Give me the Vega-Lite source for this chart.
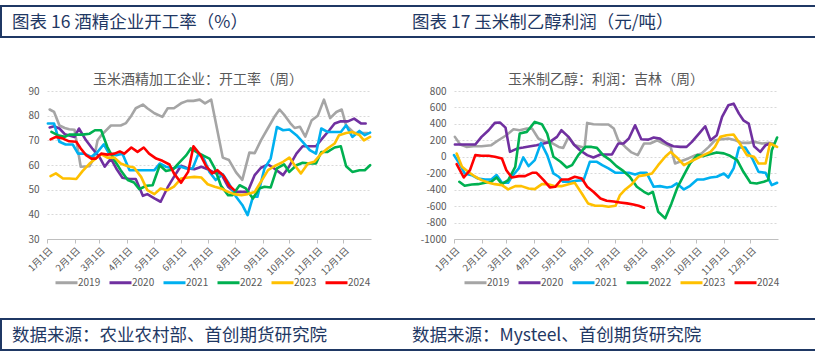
{
  "$schema": "https://vega.github.io/schema/vega-lite/v6.json",
  "padding": {"left": 0, "top": 5, "right": 0, "bottom": 0},
  "background": "white",
  "columns": 1,
  "align": "none",
  "spacing": 35,
  "config": {
    "font": "Noto Sans CJK SC",
    "view": {"stroke": null},
    "axis": {"labelColor": "#595959", "labelFontSize": 10, "domainColor": "#bfbfbf", "tickColor": "#bfbfbf", "gridColor": "#d9d9d9", "gridDash": [2, 2], "title": null},
    "title": {"fontSize": 14, "color": "#595959", "fontWeight": "normal", "offset": -1, "dx": -10},
    "legend": {"orient": "none", "direction": "horizontal", "symbolType": "stroke", "symbolSize": 484, "symbolStrokeWidth": 3, "labelFontSize": 10, "labelColor": "#595959", "columnPadding": 2, "labelOffset": -1, "title": null, "legendY": 179}
  },
  "datasets": {
    "hdr": [
      {"col": "a", "t": "图表 16 酒精企业开工率（%）"},
      {"col": "b", "t": "图表 17 玉米制乙醇利润（元/吨）"}
    ],
    "ftr": [
      {"col": "a", "t": "数据来源：农业农村部、首创期货研究院"},
      {"col": "b", "t": "数据来源：Mysteel、首创期货研究院"}
    ],
    "rate": [
      {"s":"2019","d":3,"v":82.5},{"s":"2019","d":8,"v":81.5},{"s":"2019","d":14,"v":76},{"s":"2019","d":20,"v":75},{"s":"2019","d":25,"v":74.5},{"s":"2019","d":31,"v":74.3},{"s":"2019","d":38,"v":59.3},{"s":"2019","d":48,"v":59.5},{"s":"2019","d":53,"v":63},{"s":"2019","d":57,"v":70},{"s":"2019","d":61,"v":72},{"s":"2019","d":72,"v":76},{"s":"2019","d":83,"v":76},{"s":"2019","d":89,"v":77},{"s":"2019","d":95,"v":80},{"s":"2019","d":100,"v":83},{"s":"2019","d":108,"v":84.5},{"s":"2019","d":113,"v":83},{"s":"2019","d":121,"v":81},{"s":"2019","d":130,"v":79.5},{"s":"2019","d":136,"v":83},{"s":"2019","d":143,"v":83},{"s":"2019","d":151,"v":85},{"s":"2019","d":158,"v":86},{"s":"2019","d":165,"v":86},{"s":"2019","d":172,"v":86.5},{"s":"2019","d":178,"v":85},{"s":"2019","d":185,"v":86.5},{"s":"2019","d":198,"v":63},{"s":"2019","d":205,"v":62},{"s":"2019","d":213,"v":57},{"s":"2019","d":220,"v":54},{"s":"2019","d":228,"v":65},{"s":"2019","d":234,"v":64.8},{"s":"2019","d":241,"v":70},{"s":"2019","d":249,"v":75},{"s":"2019","d":257,"v":80},{"s":"2019","d":262,"v":82.5},{"s":"2019","d":268,"v":80},{"s":"2019","d":274,"v":77},{"s":"2019","d":279,"v":75},{"s":"2019","d":285,"v":75.5},{"s":"2019","d":291,"v":71.5},{"s":"2019","d":298,"v":78},{"s":"2019","d":305,"v":80},{"s":"2019","d":312,"v":86.5},{"s":"2019","d":319,"v":79},{"s":"2019","d":326,"v":81.5},{"s":"2019","d":332,"v":82.5},{"s":"2019","d":337,"v":76},{"s":"2019","d":346,"v":73},{"s":"2019","d":356,"v":73},{"s":"2019","d":361,"v":73},
      {"s":"2020","d":3,"v":75.2},{"s":"2020","d":8,"v":75.7},{"s":"2020","d":14,"v":74.8},{"s":"2020","d":20,"v":72.5},{"s":"2020","d":25,"v":72},{"s":"2020","d":31,"v":71.4},{"s":"2020","d":36,"v":74.8},{"s":"2020","d":44,"v":70},{"s":"2020","d":51,"v":66.7},{"s":"2020","d":59,"v":63.3},{"s":"2020","d":65,"v":59.3},{"s":"2020","d":72,"v":62.6},{"s":"2020","d":78,"v":58.6},{"s":"2020","d":85,"v":54.8},{"s":"2020","d":93,"v":54.3},{"s":"2020","d":100,"v":54.3},{"s":"2020","d":108,"v":47.5},{"s":"2020","d":113,"v":48.2},{"s":"2020","d":121,"v":46.5},{"s":"2020","d":128,"v":45.1},{"s":"2020","d":136,"v":51},{"s":"2020","d":143,"v":55.2},{"s":"2020","d":151,"v":59.7},{"s":"2020","d":159,"v":58.6},{"s":"2020","d":166,"v":58.3},{"s":"2020","d":174,"v":59.3},{"s":"2020","d":181,"v":58.3},{"s":"2020","d":189,"v":56.8},{"s":"2020","d":196,"v":56.6},{"s":"2020","d":204,"v":51.2},{"s":"2020","d":211,"v":49.1},{"s":"2020","d":219,"v":49.1},{"s":"2020","d":226,"v":49.1},{"s":"2020","d":234,"v":55.9},{"s":"2020","d":241,"v":58.9},{"s":"2020","d":249,"v":60.2},{"s":"2020","d":256,"v":58.6},{"s":"2020","d":266,"v":55.9},{"s":"2020","d":273,"v":59.5},{"s":"2020","d":281,"v":64.6},{"s":"2020","d":288,"v":67.6},{"s":"2020","d":296,"v":67.6},{"s":"2020","d":303,"v":67.6},{"s":"2020","d":309,"v":70.3},{"s":"2020","d":318,"v":74.1},{"s":"2020","d":324,"v":76.8},{"s":"2020","d":331,"v":77.7},{"s":"2020","d":339,"v":77.7},{"s":"2020","d":346,"v":78.8},{"s":"2020","d":354,"v":76.8},{"s":"2020","d":359,"v":76.8},
      {"s":"2021","d":1,"v":76.8},{"s":"2021","d":8,"v":76.8},{"s":"2021","d":14,"v":69.4},{"s":"2021","d":21,"v":68.3},{"s":"2021","d":29,"v":68.3},{"s":"2021","d":35,"v":64.6},{"s":"2021","d":42,"v":64.6},{"s":"2021","d":50,"v":63.3},{"s":"2021","d":57,"v":65.3},{"s":"2021","d":64,"v":68.4},{"s":"2021","d":70,"v":64.6},{"s":"2021","d":78,"v":64},{"s":"2021","d":85,"v":64.6},{"s":"2021","d":93,"v":57.9},{"s":"2021","d":100,"v":57.9},{"s":"2021","d":108,"v":57.9},{"s":"2021","d":115,"v":57.9},{"s":"2021","d":121,"v":57.9},{"s":"2021","d":127,"v":60.6},{"s":"2021","d":134,"v":59.3},{"s":"2021","d":142,"v":58.6},{"s":"2021","d":149,"v":59.5},{"s":"2021","d":157,"v":58.6},{"s":"2021","d":164,"v":58.6},{"s":"2021","d":170,"v":64},{"s":"2021","d":175,"v":64},{"s":"2021","d":183,"v":57.2},{"s":"2021","d":190,"v":53.9},{"s":"2021","d":198,"v":56.3},{"s":"2021","d":205,"v":52.5},{"s":"2021","d":213,"v":47.1},{"s":"2021","d":220,"v":43.8},{"s":"2021","d":226,"v":39.7},{"s":"2021","d":232,"v":47.1},{"s":"2021","d":237,"v":47.1},{"s":"2021","d":245,"v":58.6},{"s":"2021","d":252,"v":62.6},{"s":"2021","d":259,"v":75.4},{"s":"2021","d":266,"v":74.1},{"s":"2021","d":273,"v":74.4},{"s":"2021","d":281,"v":72.1},{"s":"2021","d":288,"v":69.4},{"s":"2021","d":296,"v":66},{"s":"2021","d":303,"v":64.6},{"s":"2021","d":309,"v":74.8},{"s":"2021","d":316,"v":73.4},{"s":"2021","d":324,"v":73.4},{"s":"2021","d":331,"v":73.4},{"s":"2021","d":337,"v":76.1},{"s":"2021","d":344,"v":71.4},{"s":"2021","d":352,"v":73.8},{"s":"2021","d":358,"v":72.1},{"s":"2021","d":364,"v":73.1},
      {"s":"2022","d":5,"v":73.4},{"s":"2022","d":12,"v":72.1},{"s":"2022","d":20,"v":71.4},{"s":"2022","d":25,"v":72.3},{"s":"2022","d":33,"v":72.3},{"s":"2022","d":40,"v":72.3},{"s":"2022","d":48,"v":72.7},{"s":"2022","d":54,"v":74.1},{"s":"2022","d":61,"v":74.1},{"s":"2022","d":68,"v":67.3},{"s":"2022","d":76,"v":61.9},{"s":"2022","d":83,"v":57.9},{"s":"2022","d":91,"v":53.9},{"s":"2022","d":98,"v":52.9},{"s":"2022","d":104,"v":50.2},{"s":"2022","d":112,"v":51.6},{"s":"2022","d":119,"v":51.8},{"s":"2022","d":127,"v":59.9},{"s":"2022","d":134,"v":57.6},{"s":"2022","d":142,"v":58.2},{"s":"2022","d":149,"v":61},{"s":"2022","d":157,"v":64},{"s":"2022","d":162,"v":66.7},{"s":"2022","d":170,"v":64.9},{"s":"2022","d":175,"v":64},{"s":"2022","d":183,"v":62.6},{"s":"2022","d":189,"v":58.6},{"s":"2022","d":196,"v":51.6},{"s":"2022","d":204,"v":47.8},{"s":"2022","d":209,"v":47.8},{"s":"2022","d":217,"v":51.8},{"s":"2022","d":224,"v":50.5},{"s":"2022","d":232,"v":46.4},{"s":"2022","d":239,"v":50.5},{"s":"2022","d":245,"v":51.2},{"s":"2022","d":252,"v":50.9},{"s":"2022","d":259,"v":58.6},{"s":"2022","d":267,"v":60.3},{"s":"2022","d":273,"v":57.2},{"s":"2022","d":281,"v":59.9},{"s":"2022","d":288,"v":60.9},{"s":"2022","d":296,"v":60.6},{"s":"2022","d":303,"v":60.6},{"s":"2022","d":309,"v":65.3},{"s":"2022","d":316,"v":65.3},{"s":"2022","d":324,"v":67.1},{"s":"2022","d":331,"v":67.6},{"s":"2022","d":337,"v":59.5},{"s":"2022","d":344,"v":57.2},{"s":"2022","d":352,"v":57.9},{"s":"2022","d":358,"v":57.9},{"s":"2022","d":364,"v":59.9},
      {"s":"2023","d":4,"v":55.5},{"s":"2023","d":10,"v":56.6},{"s":"2023","d":18,"v":54.5},{"s":"2023","d":25,"v":54.5},{"s":"2023","d":33,"v":54.3},{"s":"2023","d":40,"v":57.5},{"s":"2023","d":48,"v":60.6},{"s":"2023","d":55,"v":62.6},{"s":"2023","d":61,"v":64.4},{"s":"2023","d":68,"v":63},{"s":"2023","d":76,"v":63},{"s":"2023","d":83,"v":60.6},{"s":"2023","d":91,"v":59.5},{"s":"2023","d":98,"v":59},{"s":"2023","d":106,"v":55.2},{"s":"2023","d":113,"v":49.8},{"s":"2023","d":121,"v":48.2},{"s":"2023","d":128,"v":50.5},{"s":"2023","d":136,"v":49.8},{"s":"2023","d":143,"v":51.2},{"s":"2023","d":151,"v":54.5},{"s":"2023","d":159,"v":54.9},{"s":"2023","d":166,"v":55.2},{"s":"2023","d":174,"v":54.9},{"s":"2023","d":181,"v":52.2},{"s":"2023","d":189,"v":51.2},{"s":"2023","d":196,"v":50.5},{"s":"2023","d":204,"v":49.1},{"s":"2023","d":211,"v":48.2},{"s":"2023","d":219,"v":47.8},{"s":"2023","d":226,"v":48.2},{"s":"2023","d":234,"v":49.1},{"s":"2023","d":241,"v":53.2},{"s":"2023","d":249,"v":57.9},{"s":"2023","d":256,"v":59.5},{"s":"2023","d":266,"v":61.3},{"s":"2023","d":273,"v":63},{"s":"2023","d":279,"v":59.9},{"s":"2023","d":286,"v":56.6},{"s":"2023","d":294,"v":60.6},{"s":"2023","d":301,"v":61.3},{"s":"2023","d":309,"v":64.6},{"s":"2023","d":316,"v":66.7},{"s":"2023","d":324,"v":68.7},{"s":"2023","d":329,"v":72.1},{"s":"2023","d":337,"v":73},{"s":"2023","d":344,"v":73.4},{"s":"2023","d":352,"v":72.1},{"s":"2023","d":357,"v":70},{"s":"2023","d":364,"v":71.4},
      {"s":"2024","d":4,"v":70.4},{"s":"2024","d":10,"v":71.4},{"s":"2024","d":18,"v":70.7},{"s":"2024","d":25,"v":69.6},{"s":"2024","d":33,"v":69.4},{"s":"2024","d":38,"v":66.7},{"s":"2024","d":44,"v":64},{"s":"2024","d":50,"v":62.6},{"s":"2024","d":55,"v":62.6},{"s":"2024","d":61,"v":64.6},{"s":"2024","d":68,"v":64.2},{"s":"2024","d":76,"v":64.6},{"s":"2024","d":82,"v":65.5},{"s":"2024","d":87,"v":64.6},{"s":"2024","d":95,"v":67.1},{"s":"2024","d":102,"v":65.3},{"s":"2024","d":109,"v":67.1},{"s":"2024","d":115,"v":64.6},{"s":"2024","d":123,"v":62.6},{"s":"2024","d":130,"v":61.7},{"s":"2024","d":138,"v":60.2},{"s":"2024","d":143,"v":56.6},{"s":"2024","d":151,"v":52.8},{"s":"2024","d":159,"v":57.2},{"s":"2024","d":165,"v":67.6},{"s":"2024","d":173,"v":64},{"s":"2024","d":179,"v":59.7},{"s":"2024","d":186,"v":56.6},{"s":"2024","d":192,"v":57.9},{"s":"2024","d":199,"v":55.6},{"s":"2024","d":205,"v":51.8},{"s":"2024","d":211,"v":49.8}
    ],
    "profit": [
      {"s":"2019","d":1,"v":242},{"s":"2019","d":7,"v":149},{"s":"2019","d":14,"v":120},{"s":"2019","d":22,"v":128},{"s":"2019","d":31,"v":128},{"s":"2019","d":42,"v":141},{"s":"2019","d":50,"v":201},{"s":"2019","d":59,"v":262},{"s":"2019","d":67,"v":335},{"s":"2019","d":74,"v":323},{"s":"2019","d":82,"v":343},{"s":"2019","d":88,"v":343},{"s":"2019","d":95,"v":222},{"s":"2019","d":103,"v":181},{"s":"2019","d":110,"v":169},{"s":"2019","d":118,"v":120},{"s":"2019","d":123,"v":108},{"s":"2019","d":129,"v":242},{"s":"2019","d":136,"v":141},{"s":"2019","d":144,"v":120},{"s":"2019","d":147,"v":100},{"s":"2019","d":150,"v":412},{"s":"2019","d":157,"v":396},{"s":"2019","d":167,"v":392},{"s":"2019","d":174,"v":392},{"s":"2019","d":180,"v":343},{"s":"2019","d":185,"v":201},{"s":"2019","d":193,"v":120},{"s":"2019","d":200,"v":53},{"s":"2019","d":207,"v":20},{"s":"2019","d":214,"v":161},{"s":"2019","d":221,"v":161},{"s":"2019","d":229,"v":201},{"s":"2019","d":236,"v":161},{"s":"2019","d":244,"v":120},{"s":"2019","d":249,"v":-81},{"s":"2019","d":257,"v":-49},{"s":"2019","d":264,"v":-20},{"s":"2019","d":272,"v":20},{"s":"2019","d":279,"v":41},{"s":"2019","d":287,"v":120},{"s":"2019","d":294,"v":201},{"s":"2019","d":302,"v":213},{"s":"2019","d":309,"v":221},{"s":"2019","d":317,"v":201},{"s":"2019","d":324,"v":169},{"s":"2019","d":332,"v":169},{"s":"2019","d":339,"v":181},{"s":"2019","d":347,"v":161},{"s":"2019","d":355,"v":169},{"s":"2019","d":360,"v":161},
      {"s":"2020","d":1,"v":149},{"s":"2020","d":9,"v":149},{"s":"2020","d":16,"v":149},{"s":"2020","d":24,"v":149},{"s":"2020","d":31,"v":242},{"s":"2020","d":39,"v":323},{"s":"2020","d":46,"v":412},{"s":"2020","d":52,"v":416},{"s":"2020","d":58,"v":355},{"s":"2020","d":63,"v":60},{"s":"2020","d":71,"v":100},{"s":"2020","d":78,"v":112},{"s":"2020","d":86,"v":128},{"s":"2020","d":93,"v":141},{"s":"2020","d":101,"v":161},{"s":"2020","d":108,"v":181},{"s":"2020","d":116,"v":242},{"s":"2020","d":121,"v":323},{"s":"2020","d":129,"v":242},{"s":"2020","d":135,"v":149},{"s":"2020","d":142,"v":80},{"s":"2020","d":150,"v":20},{"s":"2020","d":157,"v":-8},{"s":"2020","d":165,"v":28},{"s":"2020","d":172,"v":28},{"s":"2020","d":178,"v":28},{"s":"2020","d":185,"v":161},{"s":"2020","d":191,"v":161},{"s":"2020","d":197,"v":222},{"s":"2020","d":204,"v":383},{"s":"2020","d":211,"v":213},{"s":"2020","d":219,"v":209},{"s":"2020","d":225,"v":234},{"s":"2020","d":232,"v":221},{"s":"2020","d":240,"v":161},{"s":"2020","d":247,"v":128},{"s":"2020","d":255,"v":120},{"s":"2020","d":262,"v":120},{"s":"2020","d":268,"v":181},{"s":"2020","d":276,"v":282},{"s":"2020","d":283,"v":371},{"s":"2020","d":289,"v":201},{"s":"2020","d":296,"v":262},{"s":"2020","d":302,"v":484},{"s":"2020","d":309,"v":626},{"s":"2020","d":315,"v":646},{"s":"2020","d":321,"v":525},{"s":"2020","d":326,"v":444},{"s":"2020","d":332,"v":404},{"s":"2020","d":338,"v":128},{"s":"2020","d":345,"v":60},{"s":"2020","d":351,"v":141},{"s":"2020","d":356,"v":161},
      {"s":"2021","d":0,"v":20},{"s":"2021","d":6,"v":-81},{"s":"2021","d":12,"v":-203},{"s":"2021","d":20,"v":-223},{"s":"2021","d":27,"v":-264},{"s":"2021","d":35,"v":-276},{"s":"2021","d":42,"v":-276},{"s":"2021","d":48,"v":-223},{"s":"2021","d":54,"v":-316},{"s":"2021","d":61,"v":-316},{"s":"2021","d":65,"v":-243},{"s":"2021","d":73,"v":-142},{"s":"2021","d":78,"v":-8},{"s":"2021","d":84,"v":-114},{"s":"2021","d":91,"v":-41},{"s":"2021","d":98,"v":169},{"s":"2021","d":105,"v":20},{"s":"2021","d":112,"v":-203},{"s":"2021","d":118,"v":-243},{"s":"2021","d":123,"v":-304},{"s":"2021","d":131,"v":-304},{"s":"2021","d":138,"v":-292},{"s":"2021","d":146,"v":-284},{"s":"2021","d":153,"v":-61},{"s":"2021","d":161,"v":-61},{"s":"2021","d":167,"v":-102},{"s":"2021","d":174,"v":-142},{"s":"2021","d":182,"v":-195},{"s":"2021","d":189,"v":-195},{"s":"2021","d":197,"v":-195},{"s":"2021","d":204,"v":-215},{"s":"2021","d":210,"v":-195},{"s":"2021","d":217,"v":-195},{"s":"2021","d":225,"v":-365},{"s":"2021","d":232,"v":-357},{"s":"2021","d":240,"v":-373},{"s":"2021","d":245,"v":-365},{"s":"2021","d":251,"v":-324},{"s":"2021","d":259,"v":-397},{"s":"2021","d":266,"v":-353},{"s":"2021","d":274,"v":-276},{"s":"2021","d":281,"v":-276},{"s":"2021","d":289,"v":-252},{"s":"2021","d":296,"v":-243},{"s":"2021","d":304,"v":-203},{"s":"2021","d":309,"v":-252},{"s":"2021","d":315,"v":-142},{"s":"2021","d":321,"v":112},{"s":"2021","d":328,"v":112},{"s":"2021","d":336,"v":-20},{"s":"2021","d":343,"v":-183},{"s":"2021","d":351,"v":-195},{"s":"2021","d":358,"v":-345},{"s":"2021","d":364,"v":-316},
      {"s":"2022","d":6,"v":-304},{"s":"2022","d":12,"v":-353},{"s":"2022","d":20,"v":-337},{"s":"2022","d":27,"v":-333},{"s":"2022","d":35,"v":-316},{"s":"2022","d":42,"v":-304},{"s":"2022","d":48,"v":-252},{"s":"2022","d":54,"v":-333},{"s":"2022","d":61,"v":-284},{"s":"2022","d":69,"v":-122},{"s":"2022","d":74,"v":282},{"s":"2022","d":82,"v":303},{"s":"2022","d":91,"v":424},{"s":"2022","d":99,"v":396},{"s":"2022","d":105,"v":282},{"s":"2022","d":112,"v":0},{"s":"2022","d":120,"v":-61},{"s":"2022","d":127,"v":-130},{"s":"2022","d":133,"v":-102},{"s":"2022","d":140,"v":20},{"s":"2022","d":148,"v":120},{"s":"2022","d":155,"v":120},{"s":"2022","d":161,"v":108},{"s":"2022","d":168,"v":20},{"s":"2022","d":176,"v":-41},{"s":"2022","d":183,"v":-114},{"s":"2022","d":191,"v":-175},{"s":"2022","d":198,"v":-243},{"s":"2022","d":206,"v":-365},{"s":"2022","d":214,"v":-426},{"s":"2022","d":219,"v":-454},{"s":"2022","d":224,"v":-426},{"s":"2022","d":230,"v":-668},{"s":"2022","d":238,"v":-749},{"s":"2022","d":245,"v":-567},{"s":"2022","d":252,"v":-365},{"s":"2022","d":260,"v":-203},{"s":"2022","d":266,"v":-81},{"s":"2022","d":274,"v":20},{"s":"2022","d":281,"v":8},{"s":"2022","d":287,"v":28},{"s":"2022","d":296,"v":53},{"s":"2022","d":304,"v":41},{"s":"2022","d":311,"v":12},{"s":"2022","d":319,"v":-41},{"s":"2022","d":326,"v":-183},{"s":"2022","d":334,"v":-316},{"s":"2022","d":341,"v":-324},{"s":"2022","d":349,"v":-304},{"s":"2022","d":354,"v":-284},{"s":"2022","d":358,"v":80},{"s":"2022","d":364,"v":234},
      {"s":"2023","d":3,"v":40},{"s":"2023","d":9,"v":-122},{"s":"2023","d":16,"v":-183},{"s":"2023","d":24,"v":-243},{"s":"2023","d":31,"v":-284},{"s":"2023","d":39,"v":-316},{"s":"2023","d":46,"v":-333},{"s":"2023","d":54,"v":-345},{"s":"2023","d":61,"v":-397},{"s":"2023","d":69,"v":-357},{"s":"2023","d":76,"v":-357},{"s":"2023","d":84,"v":-385},{"s":"2023","d":91,"v":-393},{"s":"2023","d":99,"v":-333},{"s":"2023","d":106,"v":-333},{"s":"2023","d":114,"v":-357},{"s":"2023","d":121,"v":-357},{"s":"2023","d":129,"v":-333},{"s":"2023","d":136,"v":-316},{"s":"2023","d":144,"v":-446},{"s":"2023","d":151,"v":-567},{"s":"2023","d":159,"v":-596},{"s":"2023","d":167,"v":-596},{"s":"2023","d":174,"v":-608},{"s":"2023","d":182,"v":-596},{"s":"2023","d":187,"v":-466},{"s":"2023","d":193,"v":-397},{"s":"2023","d":200,"v":-337},{"s":"2023","d":208,"v":-235},{"s":"2023","d":215,"v":-223},{"s":"2023","d":223,"v":-203},{"s":"2023","d":230,"v":-102},{"s":"2023","d":238,"v":0},{"s":"2023","d":244,"v":60},{"s":"2023","d":251,"v":-8},{"s":"2023","d":259,"v":-102},{"s":"2023","d":266,"v":-61},{"s":"2023","d":274,"v":-20},{"s":"2023","d":281,"v":20},{"s":"2023","d":289,"v":60},{"s":"2023","d":294,"v":120},{"s":"2023","d":300,"v":242},{"s":"2023","d":307,"v":262},{"s":"2023","d":315,"v":270},{"s":"2023","d":322,"v":161},{"s":"2023","d":330,"v":20},{"s":"2023","d":338,"v":0},{"s":"2023","d":343,"v":-81},{"s":"2023","d":351,"v":-81},{"s":"2023","d":356,"v":161},{"s":"2023","d":364,"v":120},
      {"s":"2024","d":3,"v":-89},{"s":"2024","d":11,"v":-252},{"s":"2024","d":18,"v":-163},{"s":"2024","d":24,"v":20},{"s":"2024","d":31,"v":12},{"s":"2024","d":39,"v":12},{"s":"2024","d":46,"v":0},{"s":"2024","d":54,"v":-20},{"s":"2024","d":59,"v":-163},{"s":"2024","d":65,"v":-252},{"s":"2024","d":73,"v":-235},{"s":"2024","d":80,"v":-235},{"s":"2024","d":88,"v":-195},{"s":"2024","d":93,"v":-195},{"s":"2024","d":101,"v":-284},{"s":"2024","d":108,"v":-373},{"s":"2024","d":114,"v":-365},{"s":"2024","d":121,"v":-276},{"s":"2024","d":129,"v":-276},{"s":"2024","d":136,"v":-243},{"s":"2024","d":144,"v":-264},{"s":"2024","d":150,"v":-365},{"s":"2024","d":157,"v":-426},{"s":"2024","d":165,"v":-507},{"s":"2024","d":172,"v":-535},{"s":"2024","d":180,"v":-543},{"s":"2024","d":187,"v":-555},{"s":"2024","d":195,"v":-567},{"s":"2024","d":202,"v":-580},{"s":"2024","d":208,"v":-596},{"s":"2024","d":214,"v":-620}
    ]
  },
  "concat": [
    {
      "width": 815, "height": 31,
      "view": {"stroke": "#1f3864", "strokeWidth": 2},
      "data": {"name": "hdr"},
      "mark": {"type": "text", "align": "left", "baseline": "middle", "dx": 3.5, "dy": 1.5, "fontSize": 17.5, "color": "#1f3864"},
      "encoding": {
        "x": {"field": "col", "type": "nominal", "axis": null, "bandPosition": 0, "scale": {"type": "band", "paddingInner": 0, "paddingOuter": 0.01875}},
        "text": {"field": "t"}
      }
    },
    {
      "columns": 1,
      "align": "none",
      "spacing": 29,
      "concat": [
        {
          "hconcat": [
            {
              "width": 370, "height": 148,
              "title": {"text": "玉米酒精加工企业：开工率（周）", "dx": 12},
              "data": {"name": "rate"},
              "mark": {"type": "line", "strokeWidth": 2.6, "strokeJoin": "round", "strokeCap": "round"},
              "encoding": {
                "x": {"field": "d", "type": "quantitative", "scale": {"domain": [0, 365], "range": [46, 370], "nice": false, "zero": false},
                      "axis": {"values": [0, 31, 59, 90, 120, 151, 181, 212, 243, 273, 304, 334], "labelExpr": "(indexof([0,31,59,90,120,151,181,212,243,273,304,334], datum.value)+1) + '月1日'", "labelAngle": -45, "labelOverlap": false, "labelBound": false, "grid": false, "tickSize": 4, "labelPadding": 2, "labelFontSize": 9.5}},
                "y": {"field": "v", "type": "quantitative", "scale": {"domain": [30, 90], "nice": false, "zero": false},
                      "axis": {"values": [30, 40, 50, 60, 70, 80, 90], "labelExpr": "datum.value + ''", "domain": false, "ticks": false, "grid": true, "labelPadding": 8, "offset": -46}},
                "color": {"field": "s", "type": "nominal", "scale": {"domain": ["2019", "2020", "2021", "2022", "2023", "2024"], "range": ["#a5a5a5", "#7030a0", "#00b0f0", "#00b050", "#ffc000", "#ff0000"]}, "legend": {"legendX": 53}}
              }
            },
            {
              "width": 324, "height": 148,
              "title": {"text": "玉米制乙醇：利润：吉林（周）"},
              "data": {"name": "profit"},
              "mark": {"type": "line", "strokeWidth": 2.6, "strokeJoin": "round", "strokeCap": "round"},
              "encoding": {
                "x": {"field": "d", "type": "quantitative", "scale": {"domain": [0, 365], "nice": false, "zero": false},
                      "axis": {"values": [0, 31, 59, 90, 120, 151, 181, 212, 243, 273, 304, 334], "labelExpr": "(indexof([0,31,59,90,120,151,181,212,243,273,304,334], datum.value)+1) + '月1日'", "labelAngle": -45, "labelOverlap": false, "labelBound": false, "grid": false, "tickSize": 4, "labelPadding": 2, "labelFontSize": 9.5}},
                "y": {"field": "v", "type": "quantitative", "scale": {"domain": [-1000, 800], "nice": false, "zero": false},
                      "axis": {"values": [-1000, -800, -600, -400, -200, 0, 200, 400, 600, 800], "labelExpr": "datum.value + ''", "domain": false, "ticks": false, "grid": true, "labelPadding": 8, "minExtent": 40}},
                "color": {"field": "s", "type": "nominal", "scale": {"domain": ["2019", "2020", "2021", "2022", "2023", "2024"], "range": ["#a5a5a5", "#7030a0", "#00b0f0", "#00b050", "#ffc000", "#ff0000"]}, "legend": {"legendX": 9}}
              }
            }
          ],
          "spacing": 42,
          "resolve": {"scale": {"color": "independent"}}
        },
        {
          "width": 815, "height": 31,
          "view": {"stroke": "#1f3864", "strokeWidth": 2},
          "data": {"name": "ftr"},
          "mark": {"type": "text", "align": "left", "baseline": "middle", "dx": 3.5, "dy": 1, "fontSize": 17.5, "color": "#1f3864"},
          "encoding": {
            "x": {"field": "col", "type": "nominal", "axis": null, "bandPosition": 0, "scale": {"type": "band", "paddingInner": 0, "paddingOuter": 0.01875}},
            "text": {"field": "t"}
          }
        }
      ]
    }
  ]
}
